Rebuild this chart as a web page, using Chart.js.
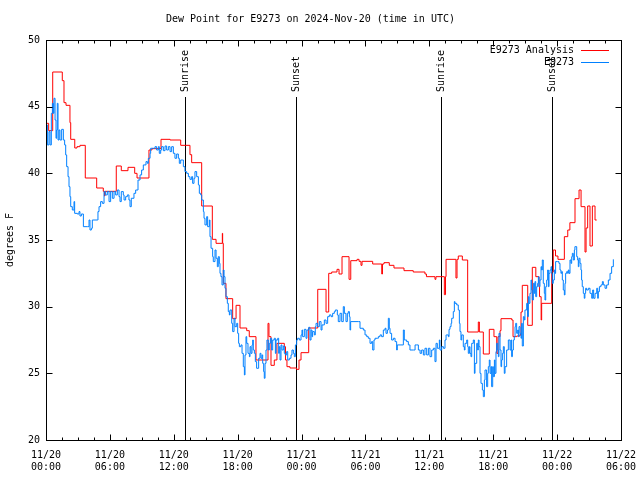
<!DOCTYPE html>
<html>
<head>
<meta charset="utf-8">
<title>Dew Point for E9273</title>
<script src="https://cdn.jsdelivr.net/npm/chart.js@4.4.1/dist/chart.umd.min.js"></script>
<style>
  html, body { margin: 0; padding: 0; background: #fff; }
  #chart { display: block; }
</style>
</head>
<body>
<canvas id="chart" width="640" height="480"></canvas>
<script>
// hours since 11/20 00:00 UTC
const xTickLabels = [
  ['11/20', '00:00'], ['11/20', '06:00'], ['11/20', '12:00'], ['11/20', '18:00'],
  ['11/21', '00:00'], ['11/21', '06:00'], ['11/21', '12:00'], ['11/21', '18:00'],
  ['11/22', '00:00'], ['11/22', '06:00']
];
const yTicks = [20, 25, 30, 35, 40, 45, 50];

const sunHours = [13.08, 23.51, 37.12, 47.55];
const sunLabels = ['Sunrise', 'Sunset', 'Sunrise', 'Sunset'];

// E9273 Analysis (stepped)
const analysisHours = [
  0, 0.25, 0.63, 1.53, 1.69, 1.88, 2.25, 2.32, 2.70, 2.91, 3.19, 3.69, 4.76, 5.38, 5.49, 5.54,
  6.60, 7.07, 7.70, 8.33, 8.55, 9.67, 9.95, 10.80, 11.65, 12.65, 13.52, 13.68, 14.62, 15.62, 15.97,
  16.56, 16.59, 16.65, 16.90, 17.53, 17.85, 18.22, 18.85, 19.09, 19.72, 20.85, 20.94, 21.13, 21.44,
  21.69, 22.38, 22.49, 22.63, 22.91, 23.53, 23.76, 23.95, 24.67, 25.52, 26.30, 26.55, 26.83, 27.33,
  27.52, 27.80, 28.46, 28.62, 29.21, 29.40, 29.58, 29.68, 30.68, 31.53, 31.60, 31.74, 32.24, 32.68,
  33.62, 34.49, 35.59, 35.73, 36.53, 36.62, 37.41, 37.52, 37.57, 38.50, 38.60, 38.72, 39.10, 39.60,
  40.60, 40.70, 41.07, 41.63, 42.07, 42.33, 42.45, 42.64, 42.73, 43.74, 43.86, 44.20, 44.52, 44.61,
  44.73, 45.24, 45.67, 46.00, 46.30, 46.35, 46.50, 46.55, 47.49, 47.64, 47.85, 48.08, 48.68, 49.00,
  49.20, 49.68, 50.06, 50.25, 50.62, 50.72, 50.87, 51.09, 51.31, 51.56, 51.72
];
const analysisDewF = [
  43.75, 43.2, 47.6, 46.95, 45.3, 45.1, 43.8, 42.55, 41.9, 42.0, 42.1, 39.65, 38.9, 38.65, 38.3, 38.65,
  40.55, 40.2, 40.45, 40.0, 39.65, 41.75, 41.85, 42.55, 42.5, 42.1, 41.4, 40.8, 37.55, 35.05, 34.75,
  35.5, 34.75, 31.75, 30.6, 29.1, 30.1, 28.4, 28.2, 27.75, 26.0, 28.75, 27.75, 25.6, 26.0,
  27.25, 27.0, 26.0, 25.5, 25.4, 25.3, 26.0, 26.55, 28.4, 31.3, 29.6, 32.5, 32.6, 32.8,
  32.45, 33.75, 32.05, 33.45, 33.55, 33.4, 33.1, 33.4, 33.2, 32.45, 33.2, 33.3, 33.1, 32.9,
  32.7, 32.6, 32.45, 32.25, 32.05, 32.25, 30.9, 32.25, 33.55, 32.15, 33.55, 33.8, 33.5, 28.1,
  28.85, 28.1, 26.45, 28.3, 27.75, 26.5, 27.75, 28.2, 29.1, 29.0, 27.75, 27.8, 27.9, 29.6,
  31.6, 28.6, 32.95, 32.25, 31.5, 30.75, 29.0, 30.25, 32.6, 34.25, 33.8, 33.55, 35.25, 35.75,
  36.3, 38.1, 38.75, 37.5, 34.1, 35.9, 37.55, 34.55, 37.55, 36.5, 36.5
];

// E9273 observations
const obsHours = [
  0.06, 0.13, 0.28, 0.38, 0.50, 0.60, 0.69, 0.75, 0.85, 0.94, 1.00, 1.06, 1.13, 1.22, 1.31, 1.47,
  1.63, 1.75, 1.85, 1.94, 2.07, 2.16, 2.25, 2.32, 2.47, 2.63, 2.69, 2.94, 3.10, 3.19, 3.32, 3.51,
  3.88, 4.04, 4.13, 4.26, 4.35, 4.82, 4.88, 4.98, 5.13, 5.29, 5.45, 5.60, 5.76, 5.92, 6.07, 6.23,
  6.39, 6.54, 6.70, 6.86, 6.95, 7.07, 7.26, 7.33, 7.48, 7.64, 7.79, 7.89, 8.01, 8.26, 8.42, 8.64,
  8.83, 8.98, 9.14, 9.39, 9.52, 9.61, 9.77, 9.83, 10.08, 10.24, 10.39, 10.55, 10.64, 10.77, 10.86, 11.02,
  11.18, 11.33, 11.49, 11.65, 11.80, 11.96, 12.11, 12.27, 12.43, 12.52, 12.65, 12.84, 12.90, 13.05, 13.21, 13.37,
  13.52, 13.68, 13.77, 13.90, 13.99, 14.15, 14.31, 14.40, 14.53, 14.62, 14.78, 14.84, 14.93, 15.09, 15.18, 15.34,
  15.40, 15.50, 15.65, 15.71, 15.87, 15.97, 16.09, 16.18, 16.28, 16.34, 16.43, 16.53, 16.65, 16.72, 16.81, 16.90,
  17.03, 17.12, 17.22, 17.28, 17.44, 17.53, 17.66, 17.75, 17.91, 18.00, 18.09, 18.16, 18.31, 18.41, 18.53, 18.63,
  18.69, 18.78, 18.85, 18.97, 19.10, 19.16, 19.25, 19.35, 19.41, 19.47, 19.57, 19.66, 19.78, 19.91, 19.97, 20.10,
  20.19, 20.29, 20.35, 20.44, 20.50, 20.57, 20.66, 20.75, 20.88, 20.97, 21.07, 21.19, 21.29, 21.44, 21.54, 21.60,
  21.76, 21.85, 21.91, 21.98, 22.07, 22.16, 22.29, 22.38, 22.48, 22.60, 22.70, 22.85, 23.01, 23.10, 23.23, 23.32,
  23.42, 23.54, 23.63, 23.79, 23.95, 24.04, 24.10, 24.26, 24.42, 24.51, 24.67, 24.79, 24.89, 24.98, 25.04, 25.20,
  25.29, 25.36, 25.51, 25.67, 25.83, 25.92, 26.14, 26.30, 26.45, 26.61, 26.77, 26.92, 27.08, 27.17, 27.36, 27.45,
  27.61, 27.77, 27.92, 28.02, 28.17, 28.30, 28.39, 28.49, 28.55, 28.61, 29.33, 29.49, 29.80, 29.96, 30.12, 30.27,
  30.43, 30.58, 30.68, 30.80, 30.90, 31.12, 31.21, 31.37, 31.52, 31.68, 31.84, 31.93, 32.06, 32.15, 32.24, 32.31,
  32.46, 32.62, 32.78, 32.93, 32.99, 33.25, 33.56, 33.65, 33.87, 34.03, 34.18, 34.50, 34.66, 34.81, 34.97, 35.13,
  35.28, 35.44, 35.59, 35.75, 35.91, 36.06, 36.22, 36.38, 36.53, 36.63, 36.75, 36.94, 37.00, 37.16, 37.32, 37.47,
  37.57, 37.63, 37.79, 37.85, 37.94, 38.04, 38.10, 38.25, 38.35, 38.41, 38.57, 38.72, 38.82, 38.88, 38.97, 39.04,
  39.19, 39.29, 39.35, 39.51, 39.60, 39.66, 39.76, 39.82, 39.91, 39.98, 40.13, 40.23, 40.29, 40.45, 40.54, 40.60,
  40.67, 40.76, 40.85, 40.98, 41.07, 41.17, 41.23, 41.38, 41.48, 41.54, 41.63, 41.70, 41.79, 41.85, 41.95, 42.01,
  42.11, 42.17, 42.26, 42.32, 42.42, 42.48, 42.54, 42.64, 42.73, 42.79, 42.86, 42.95, 43.04, 43.11, 43.26, 43.42,
  43.58, 43.67, 43.73, 43.80, 43.89, 43.98, 44.05, 44.11, 44.20, 44.30, 44.36, 44.42, 44.52, 44.61, 44.67, 44.73,
  44.83, 44.92, 44.98, 45.14, 45.23, 45.30, 45.36, 45.45, 45.55, 45.61, 45.67, 45.77, 45.86, 45.92, 45.99, 46.08,
  46.17, 46.24, 46.30, 46.39, 46.49, 46.55, 46.61, 46.70, 46.80, 46.86, 46.93, 47.02, 47.11, 47.18, 47.24, 47.33,
  47.43, 47.49, 47.55, 47.64, 47.74, 47.80, 47.86, 48.05, 48.17, 48.27, 48.36, 48.43, 48.49, 48.58, 48.68, 48.74,
  48.80, 48.90, 48.99, 49.05, 49.12, 49.21, 49.30, 49.37, 49.43, 49.52, 49.62, 49.67, 49.77, 49.84, 49.93, 49.99,
  50.05, 50.15, 50.24, 50.30, 50.36, 50.46, 50.55, 50.61, 50.68, 50.77, 50.93, 51.09, 51.25, 51.34, 51.43, 51.56,
  51.72, 51.81, 51.87, 51.97, 52.12, 52.25, 52.34, 52.50, 52.65, 52.81, 52.97, 53.12, 53.28
];
const obsDewF = [
  43.63, 42.13, 43.13, 42.13, 44.5, 45.25, 44.5, 45.63, 44.0, 42.63, 43.25, 45.25, 42.5, 43.25, 42.5, 43.3,
  42.5, 42.13, 41.38, 40.5, 39.75, 39.0, 38.25, 37.5, 37.25, 37.88, 37.0, 36.95, 37.13, 36.8, 36.95, 36.0,
  36.0, 36.5, 35.75, 35.88, 36.5, 36.5, 37.13, 37.5, 37.88, 37.75, 38.63, 38.38, 38.63, 37.88, 38.63, 38.13,
  38.63, 38.38, 38.75, 38.25, 37.88, 38.63, 38.38, 38.0, 38.25, 38.38, 38.0, 37.5, 38.13, 38.5, 38.75, 39.5,
  39.88, 40.25, 40.63, 40.88, 40.75, 41.13, 41.5, 41.88, 41.88, 42.0, 41.75, 42.0, 41.5, 41.75, 42.0, 41.7,
  42.05, 41.75, 42.0, 41.63, 42.0, 41.5, 41.13, 41.45, 41.13, 40.75, 41.0, 41.0, 40.5, 40.13, 40.0, 39.75,
  39.55, 39.75, 39.25, 39.63, 40.13, 39.75, 39.13, 38.5, 38.38, 38.0, 37.13, 36.63, 36.13, 36.75, 36.0, 36.5,
  35.25, 34.38, 33.75, 33.38, 34.25, 33.63, 33.0, 33.75, 33.25, 32.5, 32.25, 31.63, 32.75, 32.25, 31.38, 30.75,
  30.25, 29.63, 29.38, 29.75, 28.75, 28.13, 29.13, 28.5, 28.75, 28.0, 27.25, 27.0, 27.13, 26.5, 25.5, 24.88,
  26.38, 27.75, 27.25, 26.5, 26.25, 27.0, 26.5, 27.13, 27.5, 26.75, 26.5, 25.88, 25.38, 25.38, 26.13, 26.5,
  26.13, 26.38, 25.75, 25.13, 24.63, 25.75, 26.75, 27.5, 26.75, 27.25, 27.63, 26.75, 27.5, 27.63, 26.5, 27.5,
  27.63, 26.5, 27.0, 26.0, 27.13, 26.75, 27.05, 26.5, 26.38, 26.63, 26.0, 26.13, 26.38, 26.75, 26.5, 26.25,
  27.13, 27.5, 27.63, 27.5, 27.88, 28.25, 27.75, 28.3, 27.63, 28.25, 28.45, 27.5, 28.25, 27.75, 28.13, 27.88,
  28.5, 28.75, 28.5, 28.88, 28.25, 28.63, 29.0, 28.75, 29.25, 29.38, 29.25, 29.5, 29.63, 29.75, 29.38, 28.88,
  29.5, 28.88, 30.0, 29.5, 28.88, 29.5, 29.63, 29.25, 28.25, 28.88, 28.88, 28.38, 28.25, 27.88, 27.75, 27.63,
  27.25, 27.38, 26.75, 27.5, 27.63, 27.63, 27.75, 27.88, 27.75, 28.25, 28.38, 28.0, 28.25, 29.13, 28.38, 28.0,
  27.5, 27.63, 27.38, 26.75, 27.13, 27.13, 28.25, 27.5, 27.38, 27.13, 26.75, 26.75, 27.13, 27.13, 26.75, 26.5,
  26.75, 26.38, 26.88, 26.38, 26.88, 26.25, 26.75, 26.88, 25.88, 27.25, 26.88, 27.5, 26.75, 27.0, 26.88, 27.5,
  27.88, 27.88, 27.75, 28.3, 28.5, 28.75, 29.13, 29.63, 30.38, 30.25, 30.13, 29.75, 28.75, 28.13, 27.5, 27.88,
  27.0, 26.75, 27.25, 27.5, 27.0, 26.5, 27.0, 26.5, 26.25, 27.25, 27.5, 25.0, 25.75, 27.25, 26.75, 27.5,
  27.0, 25.0, 24.25, 23.75, 23.25, 24.5, 25.25, 24.0, 25.0, 25.5, 26.0, 25.0, 25.5, 24.0, 25.5, 24.75,
  26.0, 25.0, 26.63, 27.25, 26.75, 26.25, 28.0, 26.75, 25.5, 26.0, 26.5, 27.0, 25.0, 25.5, 26.75, 27.5,
  26.75, 27.5, 26.25, 26.75, 27.5, 27.75, 28.5, 28.75, 28.0, 28.25, 27.75, 28.5, 28.0, 27.63, 28.75, 27.05,
  29.25, 29.0, 29.75, 30.25, 29.25, 30.75, 30.25, 31.0, 32.0, 31.25, 30.5, 31.75, 31.0, 31.88, 30.75, 31.5,
  31.75, 32.25, 31.5, 32.0, 33.0, 32.75, 33.5, 31.75, 31.0, 30.5, 31.5, 32.0, 32.75, 31.5, 32.5, 32.75,
  33.0, 32.5, 31.75, 32.0, 32.75, 32.5, 33.38, 33.38, 33.25, 32.75, 32.5, 32.63, 32.0, 31.25, 30.88, 31.75,
  32.5, 32.63, 32.5, 32.75, 32.5, 33.5, 33.25, 33.75, 34.0, 33.5, 34.25, 34.5, 34.5, 33.75, 33.5, 33.0,
  33.63, 33.25, 32.75, 32.0, 31.5, 31.0, 30.63, 31.0, 31.38, 31.25, 31.38, 31.0, 30.63, 31.25, 30.63, 31.0,
  31.38, 30.63, 31.13, 31.5, 31.63, 31.88, 31.63, 31.38, 31.63, 32.0, 32.5, 33.0, 33.55
];

const FONT = '"DejaVu Sans Mono", "Liberation Mono", monospace';
Chart.defaults.font.family = FONT;
Chart.defaults.font.size = 10;
Chart.defaults.color = '#000';

const toPoints = (xs, ys) => xs.map((h, i) => ({ x: h, y: ys[i] }));

// frame, inward ticks, sunrise/sunset markers, legend
const gnuplotDecor = {
  id: 'gnuplotDecor',
  beforeDatasetsDraw(chart) {
    const { ctx, chartArea: a, scales: { x } } = chart;
    ctx.save();
    ctx.strokeStyle = '#000';
    ctx.fillStyle = '#000';
    ctx.lineWidth = 1;
    ctx.font = '10px ' + FONT;
    sunHours.forEach((h, i) => {
      const px = Math.round(x.getPixelForValue(h)) + 0.5;
      ctx.beginPath();
      ctx.moveTo(px, a.top + 57);
      ctx.lineTo(px, a.bottom);
      ctx.stroke();
      ctx.save();
      ctx.translate(px, a.top + 52);
      ctx.rotate(-Math.PI / 2);
      ctx.textAlign = 'left';
      ctx.textBaseline = 'middle';
      ctx.fillText(sunLabels[i], 0, 0);
      ctx.restore();
    });
    ctx.restore();
  },
  afterDatasetsDraw(chart) {
    const { ctx, chartArea: a, scales: { x, y } } = chart;
    ctx.save();
    ctx.strokeStyle = '#000';
    ctx.lineWidth = 1;
    const L = Math.round(a.left) + 0.5, R = Math.round(a.right) + 0.5;
    const T = Math.round(a.top) + 0.5, B = Math.round(a.bottom) + 0.5;
    ctx.strokeRect(L, T, R - L, B - T);
    ctx.beginPath();
    yTicks.forEach(v => {
      const py = Math.round(y.getPixelForValue(v)) + 0.5;
      ctx.moveTo(L, py); ctx.lineTo(L + 6, py);
      ctx.moveTo(R, py); ctx.lineTo(R - 6, py);
    });
    for (let h = 0; h <= 54; h += 1.5) {
      const px = Math.round(x.getPixelForValue(h)) + 0.5;
      const len = h % 6 === 0 ? 6 : 3;
      ctx.moveTo(px, B); ctx.lineTo(px, B - len);
      ctx.moveTo(px, T); ctx.lineTo(px, T + len);
    }
    ctx.stroke();

    // legend
    ctx.font = '10px ' + FONT;
    ctx.fillStyle = '#000';
    ctx.textAlign = 'right';
    ctx.textBaseline = 'middle';
    chart.data.datasets.forEach((ds, i) => {
      const ly = Math.round(a.top + 10 + i * 12) + 0.5;
      ctx.fillText(ds.label, a.right - 47, ly);
      ctx.strokeStyle = ds.borderColor;
      ctx.beginPath();
      ctx.moveTo(a.right - 40, ly);
      ctx.lineTo(a.right - 12, ly);
      ctx.stroke();
    });
    ctx.restore();
  }
};

new Chart(document.getElementById('chart'), {
  type: 'line',
  data: {
    datasets: [
      {
        label: 'E9273 Analysis',
        data: toPoints(analysisHours, analysisDewF),
        borderColor: '#ff0000',
        borderWidth: 1,
        stepped: true,
        pointRadius: 0,
        order: 2
      },
      {
        label: 'E9273',
        data: toPoints(obsHours, obsDewF),
        borderColor: '#0080ff',
        borderWidth: 1,
        stepped: true,
        pointRadius: 0,
        order: 1
      }
    ]
  },
  options: {
    responsive: false,
    animation: false,
    devicePixelRatio: 1,
    layout: { padding: { top: 0, right: 19, bottom: 0, left: 0 } },
    plugins: {
      legend: { display: false },
      tooltip: { enabled: false },
      title: {
        display: true,
        text: 'Dew Point for E9273 on 2024-Nov-20 (time in UTC)',
        font: { family: FONT, size: 10, weight: 'normal' },
        color: '#000',
        padding: { top: 13, bottom: 15 }
      }
    },
    scales: {
      x: {
        type: 'linear',
        min: 0,
        max: 54,
        grid: { display: false, drawTicks: false },
        border: { display: false },
        ticks: {
          stepSize: 6,
          autoSkip: false,
          maxRotation: 0,
          padding: 9,
          callback: (v) => xTickLabels[Math.round(v / 6)]
        },
        afterFit: (s) => { s.height = 40; s.paddingLeft = 0; s.paddingRight = 0; }
      },
      y: {
        min: 20,
        max: 50,
        grid: { display: false, drawTicks: false },
        border: { display: false },
        ticks: { stepSize: 5, padding: 6 },
        title: { display: true, text: 'degrees F', padding: { top: 4, bottom: 4 } },
        afterFit: (s) => { s.width = 46; s.paddingTop = 0; s.paddingBottom = 0; }
      }
    }
  },
  plugins: [gnuplotDecor]
});
</script>
</body>
</html>
